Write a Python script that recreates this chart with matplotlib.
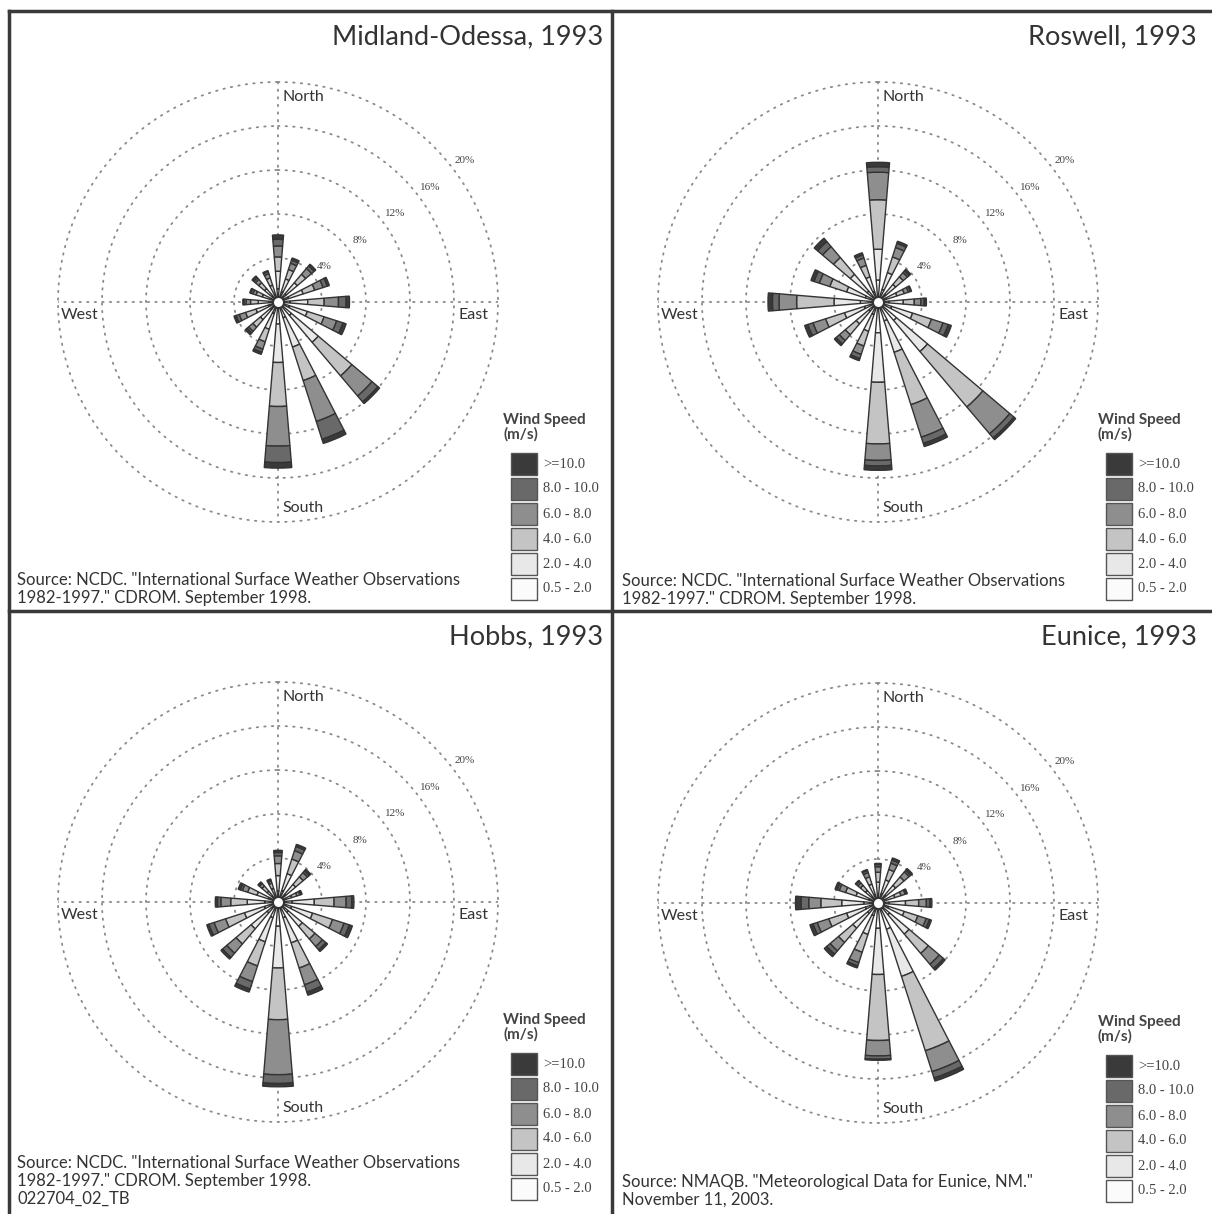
import numpy as np
import matplotlib
matplotlib.use('Agg')
import matplotlib.pyplot as plt
from matplotlib.lines import Line2D
from matplotlib.patches import Rectangle

W, H = 1212, 1214

directions = ['N', 'NNE', 'NE', 'ENE', 'E', 'ESE', 'SE', 'SSE',
              'S', 'SSW', 'SW', 'WSW', 'W', 'WNW', 'NW', 'NNW']
speed_classes = ['0.5 - 2.0', '2.0 - 4.0', '4.0 - 6.0', '6.0 - 8.0', '8.0 - 10.0', '>=10.0']
speed_colors = ['#fbfbfb', '#e8e8e8', '#c4c4c4', '#8e8e8e', '#696969', '#3a3a3a']
ring_values = [4, 8, 12, 16, 20]

# percent frequency per direction, columns = speed classes (0.5-2 ... >=10)
midland = [
    [1.2, 1.6, 1.3, 1.0, 0.6, 0.4],
    [1.0, 1.2, 0.9, 0.6, 0.3, 0.2],
    [1.0, 1.3, 1.0, 0.7, 0.3, 0.2],
    [1.0, 1.4, 1.1, 0.8, 0.4, 0.2],
    [1.1, 1.6, 1.5, 1.3, 0.7, 0.3],
    [1.1, 1.7, 1.6, 1.2, 0.6, 0.3],
    [1.6, 3.2, 4.0, 2.4, 0.7, 0.2],
    [1.5, 2.8, 3.2, 3.9, 1.7, 0.4],
    [2.0, 3.5, 4.0, 3.6, 1.5, 0.5],
    [1.1, 1.5, 1.2, 0.7, 0.3, 0.2],
    [0.9, 1.2, 0.9, 0.5, 0.2, 0.2],
    [0.9, 1.2, 1.0, 0.6, 0.3, 0.2],
    [0.8, 1.0, 0.7, 0.4, 0.2, 0.1],
    [0.7, 0.8, 0.6, 0.3, 0.2, 0.1],
    [0.7, 0.9, 0.7, 0.4, 0.2, 0.2],
    [0.7, 0.9, 0.7, 0.4, 0.2, 0.1],
]
roswell = [
    [2.0, 2.8, 4.5, 2.5, 0.5, 0.4],
    [1.2, 1.6, 1.5, 0.9, 0.4, 0.2],
    [0.9, 1.2, 0.9, 0.5, 0.2, 0.2],
    [0.8, 1.0, 0.7, 0.4, 0.2, 0.1],
    [1.0, 1.3, 1.0, 0.6, 0.3, 0.2],
    [1.3, 2.0, 1.8, 1.1, 0.5, 0.3],
    [2.2, 3.7, 6.6, 3.2, 0.5, 0.2],
    [1.8, 3.0, 5.0, 3.1, 0.6, 0.3],
    [2.8, 4.5, 5.6, 1.5, 0.5, 0.4],
    [1.2, 1.6, 1.4, 0.8, 0.4, 0.2],
    [1.1, 1.5, 1.3, 0.7, 0.4, 0.2],
    [1.3, 1.9, 1.8, 1.2, 0.5, 0.3],
    [1.6, 2.4, 3.4, 1.6, 0.6, 0.4],
    [1.2, 1.8, 1.6, 1.0, 0.5, 0.3],
    [1.3, 2.0, 2.0, 1.3, 0.6, 0.4],
    [1.0, 1.4, 1.1, 0.7, 0.3, 0.2],
]
hobbs = [
    [1.0, 1.4, 1.1, 0.7, 0.3, 0.2],
    [1.1, 1.6, 1.4, 0.8, 0.4, 0.2],
    [0.9, 1.2, 0.9, 0.5, 0.2, 0.2],
    [0.6, 0.7, 0.5, 0.3, 0.1, 0.1],
    [1.3, 2.0, 1.8, 1.1, 0.5, 0.2],
    [1.3, 2.0, 1.9, 1.1, 0.5, 0.3],
    [1.2, 1.7, 1.5, 0.9, 0.4, 0.2],
    [1.5, 2.4, 2.4, 1.6, 0.7, 0.3],
    [2.2, 3.8, 4.7, 5.0, 0.8, 0.3],
    [1.5, 2.3, 2.3, 1.5, 0.7, 0.3],
    [1.3, 1.9, 1.8, 1.1, 0.5, 0.2],
    [1.3, 1.9, 1.8, 1.1, 0.5, 0.2],
    [1.2, 1.6, 1.5, 0.9, 0.3, 0.2],
    [0.9, 1.1, 0.9, 0.5, 0.2, 0.2],
    [0.6, 0.7, 0.6, 0.3, 0.1, 0.1],
    [0.6, 0.7, 0.5, 0.2, 0.1, 0.1],
]
eunice = [
    [0.8, 1.1, 0.9, 0.5, 0.2, 0.1],
    [0.9, 1.3, 1.0, 0.6, 0.3, 0.2],
    [0.9, 1.2, 1.0, 0.6, 0.2, 0.2],
    [0.7, 0.9, 0.6, 0.4, 0.1, 0.1],
    [1.0, 1.5, 1.2, 0.7, 0.3, 0.2],
    [1.0, 1.5, 1.3, 0.8, 0.3, 0.2],
    [1.4, 2.3, 2.3, 1.3, 0.5, 0.2],
    [2.5, 4.5, 7.1, 2.0, 0.6, 0.3],
    [2.3, 4.2, 6.0, 1.4, 0.3, 0.1],
    [1.2, 1.8, 1.7, 1.0, 0.3, 0.2],
    [1.2, 1.8, 1.7, 1.0, 0.4, 0.3],
    [1.2, 1.8, 1.7, 1.1, 0.4, 0.3],
    [1.3, 2.0, 1.9, 1.1, 0.7, 0.5],
    [0.9, 1.2, 1.0, 0.6, 0.2, 0.2],
    [0.7, 0.8, 0.6, 0.3, 0.2, 0.1],
    [0.8, 1.0, 0.7, 0.4, 0.2, 0.1],
]

titles = ['Midland-Odessa, 1993', 'Roswell, 1993', 'Hobbs, 1993', 'Eunice, 1993']
sources = [
    'Source: NCDC. "International Surface Weather Observations\n1982-1997." CDROM. September 1998.',
    'Source: NCDC. "International Surface Weather Observations\n1982-1997." CDROM. September 1998.',
    'Source: NCDC. "International Surface Weather Observations\n1982-1997." CDROM. September 1998.\n022704_02_TB',
    'Source: NMAQB. "Meteorological Data for Eunice, NM."\nNovember 11, 2003.',
]
stations = [midland, roswell, hobbs, eunice]

# panel layout in pixels
centers = [(278, 302), (878, 302), (278, 902), (878, 903)]
title_pos = [(603, 37), (1197, 37), (603, 637), (1197, 637)]
legend_pos = [(511, 418), (1106, 418), (511, 1018), (1106, 1020)]
source_pos = [(17, 589), (622, 590), (17, 1181), (622, 1191)]
R = 220  # pixels for 20 %

SANS = 'Lato'
SERIF = 'Liberation Serif'

fig = plt.figure(figsize=(W / 100, H / 100), dpi=100)
fig.patch.set_facecolor('white')


def fx(x):
    return x / W


def fy(y):
    return 1 - y / H


theta = np.deg2rad(np.arange(16) * 22.5)
width = np.deg2rad(9.5)
circ = np.linspace(0, 2 * np.pi, 400)
dot_style = dict(color='#8a8a8a', lw=1.3, linestyle=(0, (0.8, 3.4)), dash_capstyle='round')

for i, data in enumerate(stations):
    cx, cy = centers[i]
    ax = fig.add_axes([fx(cx - R), fy(cy + R), 2 * R / W, 2 * R / H], projection='polar')
    ax.set_theta_zero_location('N')
    ax.set_theta_direction(-1)
    ax.set_ylim(0, 20)
    ax.grid(False)
    ax.set_xticks([])
    ax.set_yticks([])
    ax.spines['polar'].set_visible(False)
    ax.patch.set_alpha(0)

    for r in ring_values:
        ax.plot(circ, np.full_like(circ, r), zorder=1, clip_on=False, **dot_style)
        ax.text(np.deg2rad(53), r + 1.3, '%d%%' % r, fontsize=8, family=SERIF,
                color='#444444', ha='center', va='center', clip_on=False)
    for a in [0, 90]:
        ax.plot([np.deg2rad(a), np.deg2rad(a + 180)], [20, 20], zorder=1, **dot_style)

    vals = np.array(data)
    bottom = np.zeros(16)
    for k in range(6):
        ax.bar(theta, vals[:, k], width=width, bottom=bottom, color=speed_colors[k],
               edgecolor='#333333', linewidth=1.0, zorder=3)
        bottom = bottom + vals[:, k]
    ax.plot(0, 0, 'o', ms=8, mfc='white', mec='#333333', mew=1.5, zorder=6)

    # compass labels
    lab = dict(fontsize=11.5, family=SANS, color='#333333', va='center')
    fig.text(fx(cx + 4), fy(cy - 205), 'North', **lab)
    fig.text(fx(cx + 4), fy(cy + 206), 'South', **lab)
    fig.text(fx(cx - 217), fy(cy + 13), 'West', **lab)
    fig.text(fx(cx + 181), fy(cy + 13), 'East', **lab)

    tx, ty = title_pos[i]
    fig.text(fx(tx), fy(ty), titles[i], fontsize=19.5, family=SANS, color='#333333',
             ha='right', va='center')

    sx, sy = source_pos[i]
    fig.text(fx(sx), fy(sy), sources[i], fontsize=12, family=SANS, color='#333333',
             ha='left', va='center', linespacing=1.12)

    lx, ly = legend_pos[i]
    fig.text(fx(lx - 8), fy(ly - 5), 'Wind Speed\n(m/s)', fontsize=11, family=SANS,
             weight='bold', color='#444444', ha='left', va='top', linespacing=1.05)
    for k in range(6):
        top = ly + 35 + k * 25
        fig.add_artist(Rectangle((fx(lx), fy(top + 22)), 26 / W, 22 / H,
                                 facecolor=speed_colors[5 - k], edgecolor='#555555',
                                 linewidth=1.0))
        fig.text(fx(lx + 32), fy(top + 11), speed_classes[5 - k], fontsize=10.5, family=SERIF,
                 color='#444444', ha='left', va='center')

# frame and dividers
frame = dict(color='#3a3a3a', linewidth=2.5)
fig.add_artist(Line2D([fx(9), fx(1211)], [fy(11), fy(11)], **frame))
fig.add_artist(Line2D([fx(9), fx(9)], [fy(11), fy(1213)], **frame))
fig.add_artist(Line2D([fx(612), fx(612)], [fy(11), fy(1213)], **frame))
fig.add_artist(Line2D([fx(9), fx(1211)], [fy(611), fy(611)], **frame))

fig.savefig('out.png', dpi=100)
